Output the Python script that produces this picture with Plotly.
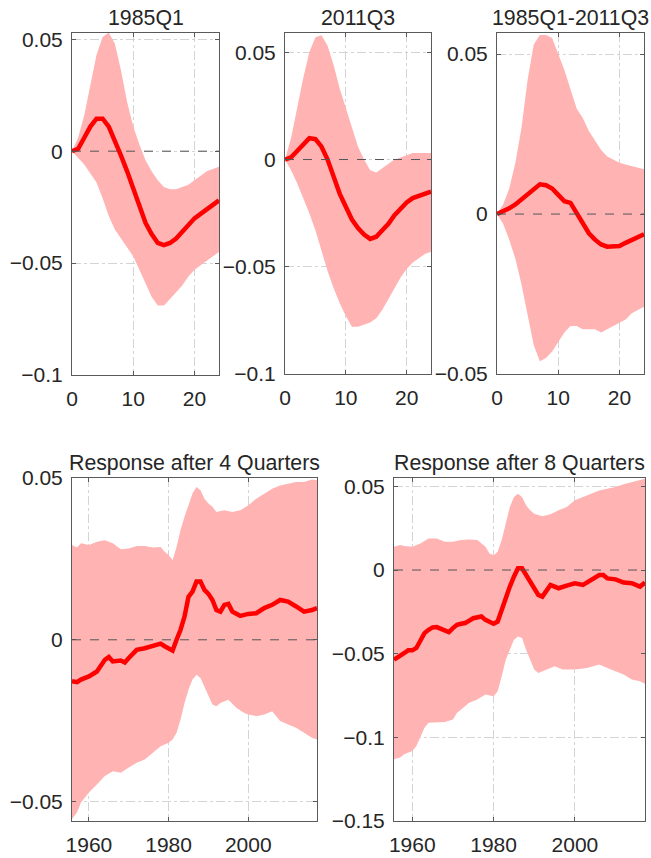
import plotly.graph_objects as go

# ---------------- data: impulse responses (horizon 0..24 quarters) ----------------
horizon = list(range(25))

irf_1985_med = [0, 0.001, 0.006, 0.011, 0.0145, 0.0145, 0.011, 0.005, -0.002, -0.009, -0.017, -0.025,
                -0.032, -0.037, -0.041, -0.042, -0.041, -0.039, -0.036, -0.033, -0.030, -0.028, -0.026, -0.024, -0.022]
irf_1985_up = [0, 0.006, 0.016, 0.030, 0.043, 0.051, 0.053, 0.048, 0.036, 0.022, 0.011, 0.003,
               -0.004, -0.009, -0.013, -0.016, -0.017, -0.017, -0.016, -0.015, -0.013, -0.011, -0.009, -0.008, -0.007]
irf_1985_lo = [0, -0.003, -0.006, -0.010, -0.014, -0.021, -0.029, -0.035, -0.039, -0.043, -0.047, -0.053,
               -0.059, -0.065, -0.069, -0.069, -0.066, -0.063, -0.060, -0.056, -0.053, -0.051, -0.049, -0.047, -0.045]

irf_2011_med = [0, 0.001, 0.004, 0.007, 0.010, 0.0095, 0.006, 0.000, -0.008, -0.016, -0.022, -0.028,
                -0.032, -0.035, -0.037, -0.036, -0.033, -0.030, -0.026, -0.023, -0.020, -0.018, -0.017, -0.016, -0.015]
irf_2011_up = [0, 0.010, 0.024, 0.038, 0.050, 0.057, 0.058, 0.053, 0.044, 0.033, 0.024, 0.015,
               0.006, 0.000, -0.005, -0.006, -0.004, -0.002, 0.000, 0.001, 0.002, 0.003, 0.003, 0.003, 0.003]
irf_2011_lo = [0, -0.005, -0.011, -0.018, -0.025, -0.033, -0.043, -0.052, -0.060, -0.067, -0.073, -0.078,
               -0.078, -0.077, -0.076, -0.074, -0.070, -0.065, -0.060, -0.055, -0.051, -0.048, -0.046, -0.044, -0.043]

irf_diff_med = [0, 0.0008, 0.0018, 0.003, 0.0045, 0.0062, 0.0078, 0.0093, 0.009, 0.008, 0.006, 0.004,
                0.0035, 0.0005, -0.003, -0.006, -0.008, -0.0095, -0.0102, -0.0101, -0.010, -0.009, -0.008, -0.007, -0.0063]
irf_diff_up = [0, 0.003, 0.008, 0.016, 0.027, 0.042, 0.053, 0.056, 0.056, 0.055, 0.050, 0.045,
               0.039, 0.033, 0.030, 0.026, 0.023, 0.020, 0.018, 0.017, 0.016, 0.0155, 0.015, 0.0145, 0.014]
irf_diff_lo = [0, -0.003, -0.008, -0.014, -0.022, -0.031, -0.041, -0.046, -0.045, -0.043, -0.040, -0.037,
               -0.035, -0.035, -0.036, -0.036, -0.036, -0.037, -0.036, -0.035, -0.034, -0.033, -0.031, -0.030, -0.029]

# ---------------- data: response after 4 quarters over time ----------------
q4_med_t = [1955.75, 1957, 1958, 1960, 1962, 1964, 1965, 1966, 1968, 1969, 1970, 1972, 1974, 1976, 1978, 1979,
            1981, 1982, 1983, 1984, 1985, 1986, 1987, 1988, 1989, 1990, 1991, 1992, 1993, 1994, 1995, 1996,
            1998, 2000, 2002, 2004, 2006, 2008, 2010, 2012, 2014, 2016, 2017.25]
q4_med = [-0.0128, -0.0131, -0.0123, -0.0113, -0.0098, -0.0062, -0.0053, -0.0067, -0.0064, -0.0070, -0.0056,
          -0.0031, -0.0026, -0.0018, -0.0012, -0.0020, -0.0033, 0.0000, 0.0031, 0.0072, 0.0133, 0.0149, 0.0180,
          0.0180, 0.0154, 0.0142, 0.0123, 0.0092, 0.0087, 0.0108, 0.0111, 0.0087, 0.0074, 0.0080, 0.0082,
          0.0098, 0.0108, 0.0123, 0.0118, 0.0103, 0.0087, 0.0092, 0.0098]
q4_up_t = [1955.75, 1957, 1958, 1960, 1962, 1964, 1966, 1968, 1970, 1972, 1974, 1976, 1978, 1979, 1980, 1981,
           1982, 1983, 1984, 1985, 1986, 1987, 1988, 1989, 1990, 1991, 1992, 1994, 1996, 1998, 2000, 2002,
           2004, 2006, 2008, 2010, 2012, 2014, 2016, 2017.25]
q4_up = [0.0293, 0.0285, 0.0298, 0.0293, 0.0303, 0.0308, 0.0298, 0.0280, 0.0282, 0.0290, 0.0290, 0.0285,
         0.0287, 0.0272, 0.0262, 0.0246, 0.0287, 0.0339, 0.0380, 0.0416, 0.0452, 0.0472, 0.0462, 0.0436,
         0.0421, 0.0411, 0.0395, 0.0400, 0.0395, 0.0400, 0.0416, 0.0436, 0.0452, 0.0467, 0.0477, 0.0483,
         0.0488, 0.0488, 0.0495, 0.0493]
q4_lo_t = [1955.75, 1957, 1958, 1960, 1962, 1964, 1966, 1968, 1970, 1972, 1974, 1976, 1978, 1980, 1981, 1982,
           1983, 1984, 1985, 1986, 1987, 1988, 1989, 1990, 1991, 1992, 1993, 1995, 1997, 1999, 2000, 2002,
           2004, 2006, 2008, 2010, 2012, 2014, 2016, 2017.25]
q4_lo = [-0.0554, -0.0534, -0.0503, -0.0472, -0.0447, -0.0421, -0.0406, -0.0411, -0.0395, -0.0380, -0.0370,
         -0.0349, -0.0329, -0.0318, -0.0308, -0.0287, -0.0246, -0.0195, -0.0154, -0.0123, -0.0108, -0.0118,
         -0.0144, -0.0175, -0.0200, -0.0205, -0.0195, -0.0185, -0.0210, -0.0226, -0.0231, -0.0236, -0.0231,
         -0.0221, -0.0251, -0.0262, -0.0272, -0.0287, -0.0303, -0.0308]

# ---------------- data: response after 8 quarters over time ----------------
q8_med_t = [1955.5, 1957, 1958, 1959, 1960, 1961, 1962, 1963, 1964, 1965, 1966, 1968, 1969, 1970, 1971, 1972,
            1973, 1975, 1977, 1978, 1980, 1981, 1982, 1983, 1984, 1985, 1986, 1987, 1988, 1989, 1990, 1991,
            1992, 1993, 1994, 1995, 1996, 1998, 2000, 2002, 2004, 2006, 2007, 2008, 2010, 2012, 2014, 2016,
            2017.25]
q8_med = [-0.0536, -0.0516, -0.0496, -0.0480, -0.0480, -0.0466, -0.0417, -0.0377, -0.0357, -0.0343, -0.0341,
          -0.0357, -0.0371, -0.0347, -0.0327, -0.0321, -0.0317, -0.0288, -0.0278, -0.0298, -0.0321, -0.0308,
          -0.0238, -0.0159, -0.0099, -0.0040, 0.0010, 0.0010, -0.0030, -0.0069, -0.0099, -0.0149, -0.0159,
          -0.0119, -0.0089, -0.0099, -0.0109, -0.0093, -0.0079, -0.0089, -0.0060, -0.0030, -0.0030, -0.0050,
          -0.0056, -0.0075, -0.0079, -0.0099, -0.0075]
q8_up_t = [1955.5, 1957, 1958, 1960, 1962, 1964, 1966, 1968, 1970, 1972, 1974, 1976, 1978, 1979, 1980, 1981,
           1982, 1983, 1984, 1985, 1986, 1987, 1988, 1989, 1990, 1992, 1994, 1996, 1998, 2000, 2002, 2004,
           2006, 2008, 2010, 2012, 2014, 2016, 2017.25]
q8_up = [0.0139, 0.0149, 0.0143, 0.0139, 0.0159, 0.0188, 0.0188, 0.0169, 0.0169, 0.0179, 0.0183, 0.0179,
         0.0139, 0.0099, 0.0089, 0.0109, 0.0179, 0.0278, 0.0377, 0.0437, 0.0456, 0.0437, 0.0387, 0.0357,
         0.0337, 0.0321, 0.0333, 0.0357, 0.0377, 0.0417, 0.0437, 0.0456, 0.0476, 0.0486, 0.0496, 0.0512,
         0.0526, 0.0540, 0.0546]
q8_lo_t = [1955.5, 1957, 1958, 1959, 1960, 1961, 1962, 1963, 1964, 1966, 1968, 1970, 1971, 1972, 1974, 1976,
           1978, 1980, 1981, 1982, 1983, 1984, 1985, 1986, 1987, 1988, 1989, 1990, 1991, 1993, 1995, 1997,
           2000, 2003, 2006, 2008, 2010, 2012, 2014, 2016, 2017.25]
q8_lo = [-0.1131, -0.1121, -0.1101, -0.1091, -0.1081, -0.1052, -0.0992, -0.0942, -0.0913, -0.0913, -0.0909,
         -0.0893, -0.0853, -0.0833, -0.0794, -0.0774, -0.0744, -0.0754, -0.0724, -0.0635, -0.0536, -0.0476,
         -0.0417, -0.0397, -0.0407, -0.0476, -0.0536, -0.0595, -0.0615, -0.0595, -0.0575, -0.0595, -0.0595,
         -0.0585, -0.0565, -0.0585, -0.0605, -0.0625, -0.0655, -0.0665, -0.0680]

# ---------------- titles and ticks ----------------
titles = ["1985Q1", "2011Q3", "1985Q1-2011Q3", "Response after 4 Quarters", "Response after 8 Quarters"]
irf_xticks = [0, 10, 20]
time_xticks = [1960, 1980, 2000]
yt_top12 = [-0.1, -0.05, 0, 0.05]
yt_top12_txt = ["\u22120.1", "\u22120.05", "0", "0.05"]
yt_top3 = [-0.05, 0, 0.05]
yt_top3_txt = ["\u22120.05", "0", "0.05"]
yt_b4 = [-0.05, 0, 0.05]
yt_b4_txt = ["\u22120.05", "0", "0.05"]
yt_b8 = [-0.15, -0.1, -0.05, 0, 0.05]
yt_b8_txt = ["\u22120.15", "\u22120.1", "\u22120.05", "0", "0.05"]

# ---------------- figure ----------------
W, H = 651, 858
BAND = "rgb(255,179,179)"
LINE = "rgb(255,0,0)"
AX = "#5a5a5a"
TXT = "#262626"
FONT = "Liberation Sans, Arial, Helvetica, sans-serif"
FS = 21

panels = [
    dict(px=(72, 219), py=(33, 375), xr=[0, 24], yr=[-0.1, 0.0528], xt=irf_xticks, yt=yt_top12, ytt=yt_top12_txt,
         lo=(horizon, irf_1985_lo), up=(horizon, irf_1985_up), med=(horizon, irf_1985_med), title=titles[0]),
    dict(px=(285, 431), py=(33, 374), xr=[0, 24], yr=[-0.1, 0.059], xt=irf_xticks, yt=yt_top12, ytt=yt_top12_txt,
         lo=(horizon, irf_2011_lo), up=(horizon, irf_2011_up), med=(horizon, irf_2011_med), title=titles[1]),
    dict(px=(497, 644), py=(33, 374), xr=[0, 24], yr=[-0.05, 0.0566], xt=irf_xticks, yt=yt_top3, ytt=yt_top3_txt,
         lo=(horizon, irf_diff_lo), up=(horizon, irf_diff_up), med=(horizon, irf_diff_med), title=titles[2]),
    dict(px=(72, 317), py=(478, 821), xr=[1955.75, 2017.25], yr=[-0.056, 0.05], xt=time_xticks, yt=yt_b4, ytt=yt_b4_txt,
         lo=(q4_lo_t, q4_lo), up=(q4_up_t, q4_up), med=(q4_med_t, q4_med), title=titles[3]),
    dict(px=(394, 645), py=(478, 821), xr=[1955.5, 2017.25], yr=[-0.15, 0.055], xt=time_xticks, yt=yt_b8, ytt=yt_b8_txt,
         lo=(q8_lo_t, q8_lo), up=(q8_up_t, q8_up), med=(q8_med_t, q8_med), title=titles[4]),
]

fig = go.Figure()
layout = dict(width=W, height=H, margin=dict(l=0, r=0, t=0, b=0, autoexpand=False), paper_bgcolor="white",
              plot_bgcolor="white", showlegend=False, font=dict(family=FONT, size=FS, color=TXT))
annotations = []
shapes = []

for i, p in enumerate(panels, start=1):
    xa = "x" if i == 1 else f"x{i}"
    ya = "y" if i == 1 else f"y{i}"
    fig.add_trace(go.Scatter(x=p["lo"][0], y=p["lo"][1], mode="lines", line=dict(width=0, color=BAND),
                             xaxis=xa, yaxis=ya, hoverinfo="skip"))
    fig.add_trace(go.Scatter(x=p["up"][0], y=p["up"][1], mode="lines", line=dict(width=0, color=BAND),
                             fill="tonexty", fillcolor=BAND, xaxis=xa, yaxis=ya, hoverinfo="skip"))
    fig.add_trace(go.Scatter(x=p["med"][0], y=p["med"][1], mode="lines", line=dict(width=4.5, color=LINE),
                             xaxis=xa, yaxis=ya))
    xd = [p["px"][0] / W, p["px"][1] / W]
    yd = [1 - p["py"][1] / H, 1 - p["py"][0] / H]
    axcommon = dict(showline=True, linecolor=AX, linewidth=1, mirror="ticks", ticks="inside", ticklen=4,
                    tickcolor=AX, showgrid=True, gridcolor="#d4d4d4", griddash="dashdot", gridwidth=1,
                    zeroline=False, automargin=False, tickfont=dict(family=FONT, size=FS, color=TXT))
    layout["xaxis" if i == 1 else f"xaxis{i}"] = dict(axcommon, domain=xd, range=p["xr"], tickmode="array",
                                                      tickvals=p["xt"], anchor=ya, ticklabelstandoff=5)
    layout["yaxis" if i == 1 else f"yaxis{i}"] = dict(axcommon, domain=yd, range=p["yr"], tickmode="array",
                                                      tickvals=p["yt"], ticktext=p["ytt"], anchor=xa,
                                                      ticklabelstandoff=4)
    shapes.append(dict(type="line", xref=f"{xa} domain", yref=ya, x0=0, x1=1, y0=0, y1=0,
                       line=dict(color="#555555", width=1, dash="dash"), layer="above"))
    annotations.append(dict(text=p["title"], xref="paper", yref="paper", x=(xd[0] + xd[1]) / 2,
                            y=yd[1] + 15 / H, xanchor="center", yanchor="middle", showarrow=False,
                            font=dict(family=FONT, size=21.3, color=TXT)))

layout["annotations"] = annotations
layout["shapes"] = shapes
fig.update_layout(**layout)
fig.write_html("out.html")
